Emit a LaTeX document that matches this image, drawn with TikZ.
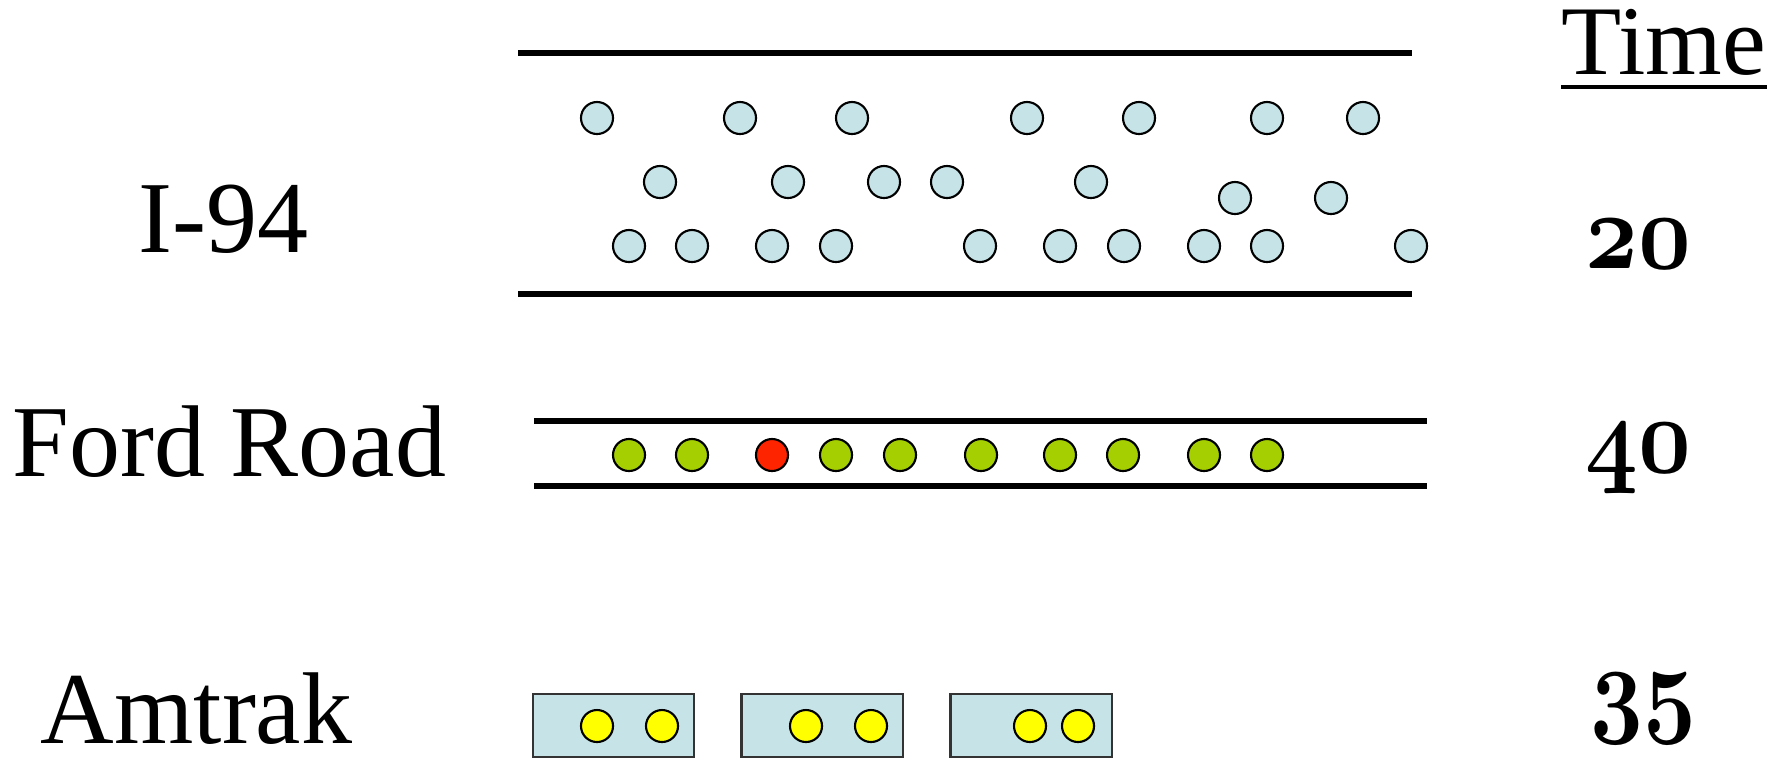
\documentclass[tikz,border=0pt]{standalone}
\usepackage{fontspec}
\setmainfont{Liberation Serif}
\definecolor{carblue}{RGB}{198,228,231}
\definecolor{cargreen}{RGB}{165,207,0}
\definecolor{carred}{RGB}{255,36,0}
\definecolor{rideryellow}{RGB}{255,255,0}
\usetikzlibrary{positioning}
\tikzset{
    car/.style={circle, draw=black, line width=0.6pt, minimum size=0.32cm, inner sep=0pt},
    road/.style={line width=1.45pt},
    roadname/.style={font=\fontsize{29}{34}\selectfont, inner sep=0pt},
    minutes/.style={font=\fontsize{24.88}{30}\selectfont\boldmath, inner sep=0pt, anchor=base,
        xscale=1.05, yscale=1.25},
    railcar/.style={rectangle, draw=black!80, fill=carblue, line width=0.6pt,
        minimum width=1.61cm, minimum height=0.63cm, inner sep=0pt}
}

\begin{document}
\begin{tikzpicture}[x=0.01cm, y=-0.01cm]
    \useasboundingbox (0,0) rectangle (1780,760);

    % Headings and names
    \node[roadname, font=\fontsize{28}{33}\selectfont, anchor=base west] (time) at (1561,74) {Time};
    \draw[line width=1.4pt] ([yshift=-0.13cm]time.base west) -- ([yshift=-0.13cm]time.base east);
    \node[roadname, anchor=base west] (i94) at (138,252) {I-94};
    \node[roadname, anchor=base west] (ford) at (12,476) {Ford Road};
    \node[roadname, anchor=base west] (amtrak) at (40,743) {Amtrak};

    % Times
    \node[minutes] (t20) at (1638,268) {$\mathnormal{20}$};
    \node[minutes] (t40) at (1638,472) {$\mathnormal{40}$};
    \node[minutes] (t35) at (1643,722) {$\mathnormal{35}$};

    % I-94: three lanes
    \draw[road] (518,53) -- (1412,53);
    \draw[road] (518,294) -- (1412,294);
    \foreach \x in {597,740,852,1027,1139,1267,1363}
        \node[car, fill=carblue] (lanea\x) at (\x,118) {};
    \foreach \x in {660,788,884,947,1091}
        \node[car, fill=carblue] (laneb\x) at (\x,182) {};
    \foreach \x in {1235,1331}
        \node[car, fill=carblue] (laneb\x) at (\x,198) {};
    \foreach \x in {629,692,772,836,980,1060,1124,1204,1267,1411}
        \node[car, fill=carblue] (lanec\x) at (\x,246) {};

    % Ford Road: one lane, one stalled car
    \draw[road] (534,421) -- (1427,421);
    \draw[road] (534,486) -- (1427,486);
    \foreach \x in {629,692,836,900,981,1060,1123,1204,1267}
        \node[car, fill=cargreen] (ford\x) at (\x,455) {};
    \node[car, fill=carred] (stalled) at (772,455) {};

    % Amtrak: three cars
    \node[railcar] (train1) at (613.5,725.5) {};
    \node[railcar] (train2) at (822,725.5) {};
    \node[railcar] (train3) at (1031,725.5) {};
    \foreach \x in {597,662,806,871,1030,1078}
        \node[car, fill=rideryellow] (rider\x) at (\x,726) {};
\end{tikzpicture}
\end{document}
